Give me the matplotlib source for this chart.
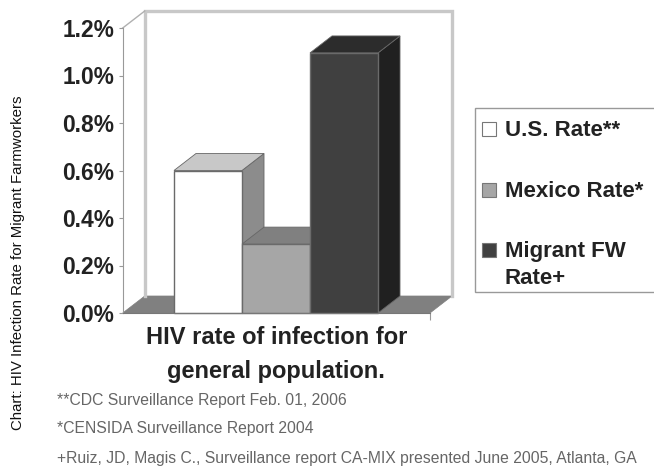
import matplotlib
matplotlib.use('Agg')
import matplotlib.pyplot as plt
from matplotlib.patches import Polygon, Rectangle

plt.rcParams['font.family'] = ['Liberation Sans', 'DejaVu Sans']

# chart values
series_names = ['U.S. Rate**', 'Mexico Rate*', 'Migrant FW\nRate+']
rates = [0.6, 0.29, 1.095]
y_ticks = [0.0, 0.2, 0.4, 0.6, 0.8, 1.0, 1.2]
y_tick_labels = ['0.0%', '0.2%', '0.4%', '0.6%', '0.8%', '1.0%', '1.2%']
footnotes = ['**CDC Surveillance Report Feb. 01, 2006',
             '*CENSIDA Surveillance Report 2004',
             '+Ruiz, JD, Magis C., Surveillance report CA-MIX presented June 2005, Atlanta, GA']

front_colors = ['#ffffff', '#a6a6a6', '#404040']
top_colors = ['#c8c8c8', '#808080', '#2c2c2c']
side_colors = ['#8c8c8c', '#707070', '#202020']

W, H = 654, 466
X_MIN, X_MAX = -1.254, 3.265
Y_MAX = 1.2
# size of the 3d offset, in data units
DX = 0.324
DY = 0.0716


def fx(px):
    return px / W


def fy(px):
    return 1 - px / H


def draw_walls(ax):
    """Back wall, side wall and floor of the fake 3d box."""
    floor = [(X_MIN, 0), (X_MAX, 0), (X_MAX + DX, DY), (X_MIN + DX, DY)]
    ax.add_patch(Polygon(floor, facecolor='#808080', edgecolor='#808080', lw=0.5, clip_on=False, zorder=1))
    back = [(X_MIN + DX, DY), (X_MIN + DX, Y_MAX + DY), (X_MAX + DX, Y_MAX + DY), (X_MAX + DX, DY)]
    ax.plot(*zip(*back), color='#c8c8c8', lw=2.4, clip_on=False, zorder=1, solid_joinstyle='miter')
    ax.plot([X_MIN, X_MIN + DX], [Y_MAX, Y_MAX + DY], color='#b0b0b0', lw=1, clip_on=False, zorder=1)


def draw_bar(ax, pos, value, i):
    """One 3d bar: front through ax.bar, then top and side faces."""
    l, r = pos - 0.5, pos + 0.5
    ax.bar(pos, value, width=1.0, color=front_colors[i], edgecolor='#6a6a6a', lw=1, zorder=2 + i * 0.1, clip_on=False)
    top = [(l, value), (r, value), (r + DX, value + DY), (l + DX, value + DY)]
    side = [(r, 0), (r, value), (r + DX, value + DY), (r + DX, DY)]
    z = 1.95 + i * 0.1
    ax.add_patch(Polygon(side, facecolor=side_colors[i], edgecolor='#666666', lw=0.6, clip_on=False, zorder=z))
    ax.add_patch(Polygon(top, facecolor=top_colors[i], edgecolor='#666666', lw=0.6, clip_on=False, zorder=z))


def draw_legend(fig):
    """Legend box runs off the right edge, so it is laid out by hand."""
    fig.add_artist(Rectangle((fx(475), fy(292)), fx(200), 184 / H, transform=fig.transFigure,
                             facecolor='white', edgecolor='#999999', lw=1))
    for name, color, y in zip(series_names, front_colors, [129, 190, 250]):
        fig.add_artist(Rectangle((fx(482), fy(y + 7)), fx(14), 14 / H, transform=fig.transFigure,
                                 facecolor=color, edgecolor='#777777', lw=0.8))
        fig.text(fx(505), fy(y - 9), name, fontsize=16, fontweight='bold', color='#222222',
                 ha='left', va='top', linespacing=1.35)


def main():
    fig = plt.figure(figsize=(W / 100, H / 100), dpi=100)
    ax = fig.add_axes([fx(122.7), fy(313), fx(430 - 122.7), 285 / H])
    ax.set_xlim(X_MIN, X_MAX)
    ax.set_ylim(0, Y_MAX)
    ax.patch.set_alpha(0)

    draw_walls(ax)
    for i, v in enumerate(rates):
        draw_bar(ax, i, v, i)

    for s in ['top', 'right']:
        ax.spines[s].set_visible(False)
    ax.spines['left'].set_color('#999999')
    ax.spines['bottom'].set_color('#777777')
    ax.set_xticks([X_MAX])
    ax.set_xticklabels([''])
    ax.set_yticks(y_ticks)
    ax.set_yticklabels(y_tick_labels, fontsize=16.4, fontweight='bold', color='#222222')
    ax.tick_params(axis='y', length=3, pad=3, color='#999999')
    ax.tick_params(axis='x', length=5, color='#999999')
    ax.set_xlabel('HIV rate of infection for\ngeneral population.', fontsize=17, fontweight='bold',
                  color='#222222', linespacing=1.6, labelpad=1)

    draw_legend(fig)

    fig.text(fx(18), fy(263), 'Chart: HIV Infection Rate for Migrant Farmworkers', rotation=90,
             fontsize=10.85, ha='center', va='center', color='#111111')
    for text, y in zip(footnotes, [400, 429, 458]):
        fig.text(fx(57), fy(y), text, fontsize=11.3, ha='left', va='center', color='#666666')

    fig.savefig('out.png', dpi=100)
    plt.close(fig)


if __name__ == "__main__":
    main()
